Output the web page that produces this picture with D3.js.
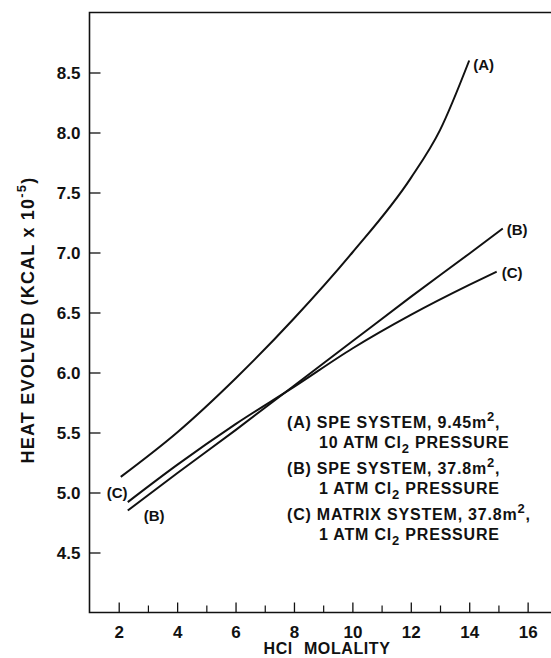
<!DOCTYPE html>
<html>
<head>
<meta charset="utf-8">
<script src="https://cdn.jsdelivr.net/npm/d3@7"></script>
<style>
  html, body { margin: 0; padding: 0; background: #fff; }
  svg { display: block; }
  text { font-family: "Liberation Sans", Arial, Helvetica, sans-serif; fill: #111; }
</style>
</head>
<body>
<svg id="chart" width="551" height="658"></svg>
<script>
// Heat evolved vs. HCl molality for three chlorine-electrode systems
const molalityA = [2.07, 4, 6, 8, 10, 12, 13, 14.0];
const heatA     = [5.13, 5.50, 5.95, 6.45, 7.00, 7.62, 8.02, 8.60];

const molalityB = [2.31, 4, 6, 8, 10, 12, 14, 15.15];
const heatB     = [4.85, 5.16, 5.52, 5.89, 6.26, 6.63, 6.99, 7.20];

const molalityC = [2.31, 4, 6, 8, 10, 12, 14, 14.94];
const heatC     = [4.92, 5.23, 5.57, 5.88, 6.20, 6.48, 6.73, 6.84];

const curveLabels = ["(A)", "(B)", "(C)"];
const xTickValues = [2, 4, 6, 8, 10, 12, 14, 16];
const xMinorTicks = [3, 5, 7, 9, 11, 13, 15];
const yTickValues = [4.5, 5.0, 5.5, 6.0, 6.5, 7.0, 7.5, 8.0, 8.5];

const svg = d3.select("#chart");
const x = d3.scaleLinear().domain([1, 16.8]).range([89.5, 551]);
const y = d3.scaleLinear().domain([4, 9]).range([612.5, 12.5]);

const ink = "#111";
const font = "'Liberation Sans', Arial, sans-serif";

// frame: left, top and bottom edges
svg.append("path")
  .attr("d", `M551,${y(9)}H${x(1)}V${y(4)}H551`)
  .attr("fill", "none").attr("stroke", ink).attr("stroke-width", 1.6);

// y axis ticks (inward) and labels
const yAxis = d3.axisRight(y).tickValues(yTickValues).tickSize(11)
  .tickFormat(d3.format(".1f"));
const gy = svg.append("g").attr("transform", `translate(${x(1)},0)`).call(yAxis);
gy.select(".domain").remove();
gy.selectAll(".tick line").attr("stroke", ink).attr("stroke-width", 1.3);
gy.selectAll(".tick text")
  .attr("x", -9).attr("text-anchor", "end").attr("dy", "0.36em")
  .style("font-size", "17px").style("font-weight", "bold")
  .style("font-family", font).attr("fill", ink);

// x axis ticks (inward), major with labels, minor without
const xAxis = d3.axisTop(x).tickValues(xTickValues).tickSize(10).tickFormat(d3.format("d"));
const gx = svg.append("g").attr("transform", `translate(0,${y(4)})`).call(xAxis);
gx.select(".domain").remove();
gx.selectAll(".tick line").attr("stroke", ink).attr("stroke-width", 1.3);
gx.selectAll(".tick text")
  .attr("y", 25).attr("dy", 0)
  .style("font-size", "17px").style("font-weight", "bold")
  .style("font-family", font).attr("fill", ink);

const gxm = svg.append("g").attr("transform", `translate(0,${y(4)})`)
  .call(d3.axisTop(x).tickValues(xMinorTicks).tickSize(7).tickFormat(""));
gxm.select(".domain").remove();
gxm.selectAll(".tick line").attr("stroke", ink).attr("stroke-width", 1.2);

// axis titles
svg.append("text")
  .attr("x", 327).attr("y", 654).attr("text-anchor", "middle")
  .style("font-size", "16px").style("font-weight", "bold")
  .style("letter-spacing", "0.6px").style("word-spacing", "6px")
  .text("HCl MOLALITY");

const yTitle = svg.append("text")
  .attr("transform", "translate(34,320) rotate(-90)")
  .attr("text-anchor", "middle")
  .style("font-size", "18px").style("font-weight", "bold")
  .style("letter-spacing", "1.2px");
yTitle.append("tspan").text("HEAT EVOLVED (KCAL x 10");
yTitle.append("tspan").attr("dy", -8).style("font-size", "13px").text("-5");
yTitle.append("tspan").attr("dy", 8).text(")");

// curves
const line = d3.line()
  .x(d => x(d[0])).y(d => y(d[1]))
  .curve(d3.curveMonotoneX);

const series = [
  d3.zip(molalityA, heatA),
  d3.zip(molalityB, heatB),
  d3.zip(molalityC, heatC)
];

svg.selectAll("path.curve").data(series).enter().append("path")
  .attr("class", "curve")
  .attr("d", line)
  .attr("fill", "none").attr("stroke", ink).attr("stroke-width", 2);

// curve labels at the ends of each line
const endLabels = [
  { t: curveLabels[0], x: x(molalityA[molalityA.length - 1]) + 4, y: y(heatA[heatA.length - 1]) + 9 },
  { t: curveLabels[1], x: x(molalityB[molalityB.length - 1]) + 4, y: y(heatB[heatB.length - 1]) + 6 },
  { t: curveLabels[2], x: x(molalityC[molalityC.length - 1]) + 5, y: y(heatC[heatC.length - 1]) + 6 },
  { t: curveLabels[2], x: x(molalityC[0]) - 21, y: y(5.0) + 5 },
  { t: curveLabels[1], x: x(molalityB[0]) + 16, y: y(heatB[0]) + 10 }
];
svg.selectAll("text.curve-label").data(endLabels).enter().append("text")
  .attr("class", "curve-label")
  .attr("x", d => d.x).attr("y", d => d.y)
  .style("font-size", "15px").style("font-weight", "bold")
  .text(d => d.t);

// key
const key = [
  { tag: "(A)", pre: "SPE SYSTEM, 9.45m", post: ",", line2: "10 ATM Cl" },
  { tag: "(B)", pre: "SPE SYSTEM, 37.8m", post: ",", line2: "1 ATM Cl" },
  { tag: "(C)", pre: "MATRIX SYSTEM, 37.8m", post: ",", line2: "1 ATM Cl" }
];
const keyY = [428, 474, 520];
key.forEach((k, i) => {
  const t1 = svg.append("text").attr("x", 287).attr("y", keyY[i])
    .style("font-size", "16px").style("font-weight", "bold").style("letter-spacing", "0.8px");
  t1.append("tspan").text(k.tag + " " + k.pre);
  t1.append("tspan").attr("dy", -7).style("font-size", "13px").text("2");
  t1.append("tspan").attr("dy", 7).text(k.post);

  const t2 = svg.append("text").attr("x", 319).attr("y", keyY[i] + 20)
    .style("font-size", "16px").style("font-weight", "bold").style("letter-spacing", "0.8px");
  t2.append("tspan").text(k.line2);
  t2.append("tspan").attr("dy", 5).style("font-size", "13px").text("2");
  t2.append("tspan").attr("dy", -5).text(" PRESSURE");
});
</script>
</body>
</html>
